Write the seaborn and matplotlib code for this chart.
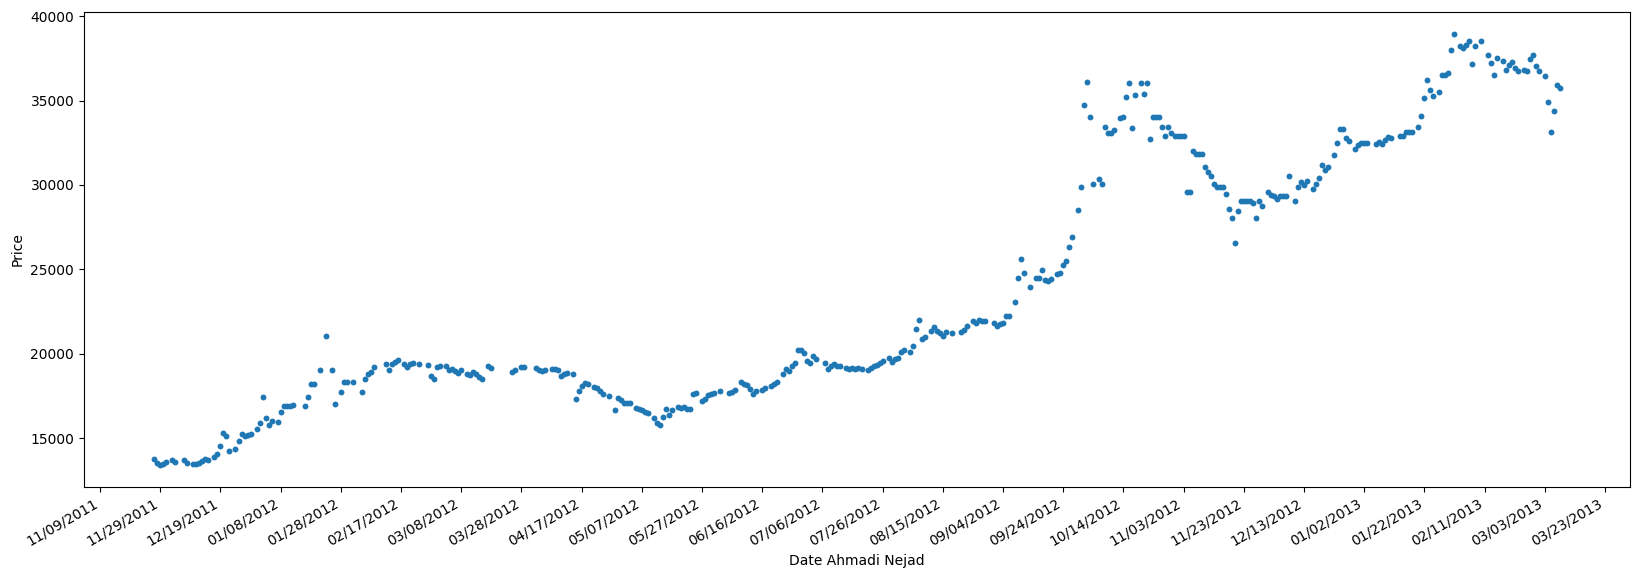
import numpy as np
import pandas as pd
import matplotlib
matplotlib.use("Agg")
import matplotlib.pyplot as plt
import matplotlib.dates as mdates
import seaborn as sns

# days counted from 2011-11-09 (first x tick)
start_date = "2011-11-09"

days_since_start = [
    18, 19, 20, 21, 22, 24, 25, 28, 29, 31, 32, 33, 34, 35, 36, 38, 39, 40, 41, 42, 43,
    45, 46, 47, 48, 49, 50, 52, 53, 54, 55, 56, 57, 59, 60, 61, 62, 63, 64, 68, 69, 70,
    71, 73, 75, 77, 78, 80, 81, 82, 84, 87, 88, 89, 90, 91, 95, 96, 97, 98, 99, 101, 102,
    103, 104, 106,
    109, 110, 111, 112, 113, 115, 116, 117, 118, 119, 120, 122, 123, 124, 125, 126, 127,
    129, 130, 137, 138, 140, 141, 145, 146, 147, 148, 150, 151, 152, 153, 154, 155, 157,
    158, 159, 160, 161, 162, 164, 165, 166, 167, 169, 171, 172, 173, 174, 175, 176, 178,
    179, 180, 181, 182, 184, 185, 186, 187, 188, 189, 190, 192, 193, 194, 195, 196, 197, 198,
    200, 201, 202, 203, 204, 206, 209, 210, 211, 213, 214, 215, 216, 217, 218, 220, 221,
    223, 224, 225, 227, 228, 229, 230, 231, 232, 233, 234, 235, 236, 237, 238, 241, 242,
    243, 244, 245, 246, 248, 249, 250, 251, 252, 253, 255, 256, 257, 258, 259, 260, 262,
    263, 264, 265, 266, 267, 269, 270, 271, 272, 273, 274, 276, 277, 278, 279, 280, 281,
    283, 286, 287, 288, 290, 291, 292, 293, 294, 297, 298, 299, 300, 301, 302,
    304, 305, 306, 307, 309, 311, 312, 313, 314, 315, 316, 318, 319, 320, 321, 322, 323,
    325, 326, 327, 328, 329, 330, 332, 333, 334, 335, 336, 337, 339, 340, 341, 342, 343,
    344, 346, 347, 348, 349, 350, 351, 352, 353, 354, 355, 356, 357, 358, 359, 360, 361,
    362, 363, 364, 365, 366, 367, 368, 369, 370, 371, 372, 373, 374, 375, 376, 377, 378,
    379, 380, 381, 382, 383, 384, 385, 386, 388, 389, 390, 391, 392, 393, 394, 395, 397,
    398, 399, 400, 401, 403, 404, 405, 406, 407, 408, 410, 411, 412, 413, 414, 415, 417,
    418, 419, 420, 421, 424, 425, 426, 427, 428, 429, 432, 433, 434, 435, 436, 438, 439,
    440, 441, 442, 443, 445, 446, 447, 448, 449, 450, 452, 453, 454, 455, 456, 457, 459,
    461, 462, 463, 464, 466, 467, 468, 469, 470, 471, 473, 474, 475, 476, 477, 478, 480,
    481, 482, 483, 484, 485,
]

prices = [
    13740, 13510, 13390, 13470, 13580, 13700, 13600, 13700, 13550, 13490, 13490, 13550,
    13640, 13780, 13720, 13860, 14080, 14510, 15320, 15140, 14250, 14370, 14850, 15260,
    15140, 15200, 15260, 15550, 15910, 17450, 16200, 15790, 16030, 15970, 16560, 16910,
    16910, 16930, 16970, 16910, 17450, 18210, 18210, 19040, 21070, 19040, 17030, 17740,
    18330, 18330, 18330, 17740, 18510, 18800, 18920, 19220, 19400, 19040, 19400, 19510,
    19630, 19400, 19220, 19400, 19450, 19410,
    19360, 18710, 18490, 19220, 19280, 19280, 19040, 19100, 18980, 18860, 19040, 18800,
    18750, 18920, 18800, 18630, 18490, 19280, 19160, 18920, 19040, 19220, 19220, 19160,
    19040, 18980, 19040, 19100, 19100, 19040, 18690, 18800, 18860, 18800, 17330, 17800,
    18100, 18270, 18210, 18040, 17980, 17800, 17620, 17500, 16680, 17390, 17270, 17090,
    17090, 17090, 16800, 16740, 16680, 16560, 16500, 16200, 15910, 15790, 16260, 16740,
    16380, 16680, 16860, 16800, 16860, 16740, 16740, 17620, 17680,
    17230, 17350, 17580, 17640, 17700, 17820, 17680, 17760, 17880, 18310, 18230, 18160,
    17920, 17620, 17820, 17880, 18000, 18120, 18210, 18330, 18830, 19100, 19000, 19260,
    19430, 20200, 20200, 20020, 19570, 19450, 19840, 19720, 19480, 19100, 19260, 19420,
    19260, 19260, 19150, 19100, 19150, 19100, 19130, 19080, 19060, 19160, 19260, 19360,
    19460, 19590, 19770, 19500, 19710, 19770, 20100, 20200, 20100, 20480, 21460, 22020,
    20890, 21010, 21370, 21560, 21370, 21250, 21070, 21310, 21250, 21300, 21430, 21660,
    21960, 21800, 22020, 21960, 21960, 21820, 21640, 21760, 21820, 22230, 22230,
    23060, 24480, 25600, 24770, 23950, 24480, 24480, 24950, 24360, 24290, 24420, 24720,
    24770, 25250, 25480, 26310, 26900, 28500, 29860, 34760, 36120, 34050, 30030, 30330,
    30030, 33460, 33050, 33050, 33280, 33990, 34050, 35240, 36060, 33400, 35350, 36060,
    35410, 36060, 32750, 34050, 34050, 34050, 33460, 32930, 33460, 33050, 32930, 32930,
    32930, 32930, 29560, 29560, 32040, 31810, 31810, 31810, 31040, 30740, 30510, 30030,
    29860, 29860, 29860, 29440, 28560, 28020, 26550, 28440, 29030, 29030, 29030, 29030,
    28910, 28020, 29030, 28730, 29560, 29380, 29330, 29150, 29330, 29330, 29330, 30510,
    29030, 29860, 30150, 29980, 30210, 29740, 30030, 30390, 31160, 30860, 31040, 31750,
    32460, 33340, 33340, 32810, 32630, 32160, 32340, 32460, 32460, 32460, 32400, 32520,
    32400, 32690, 32870, 32810, 32930, 32930, 33110, 33110, 33110, 33460, 34110, 35180,
    36240, 35650, 35290, 35530, 36540, 36540, 36650, 38010, 38960, 38250, 38130, 38310,
    38540, 37190, 38250, 38540, 37720, 37240, 36540, 37540, 37360, 36830, 37130, 37300,
    36950, 36770, 36830, 36770, 37480, 37720, 37070, 36770, 36480, 34940, 33110, 34410,
    35940, 35770,
]

assert len(days_since_start) == len(prices)

df = pd.DataFrame({
    "Date": pd.Timestamp(start_date) + pd.to_timedelta(days_since_start, unit="D"),
    "Price": prices,
})

fig = plt.figure(figsize=(16.43, 5.79), dpi=100)
ax = fig.add_axes([0.0511, 0.159, 0.941, 0.820])

sns.scatterplot(data=df, x="Date", y="Price", ax=ax, s=18, linewidth=0, color="#1f77b4")

# ticks every 20 days like the original auto locator
ax.set_xticks(pd.date_range("2011-11-09", "2013-03-23", freq="20D"))
ax.xaxis.set_major_formatter(mdates.DateFormatter("%m/%d/%Y"))
plt.setp(ax.get_xticklabels(), rotation=30, ha="right")

ax.set_xlabel("Date Ahmadi Nejad")
ax.set_ylabel("Price")

fig.savefig("out.png", dpi=100)
